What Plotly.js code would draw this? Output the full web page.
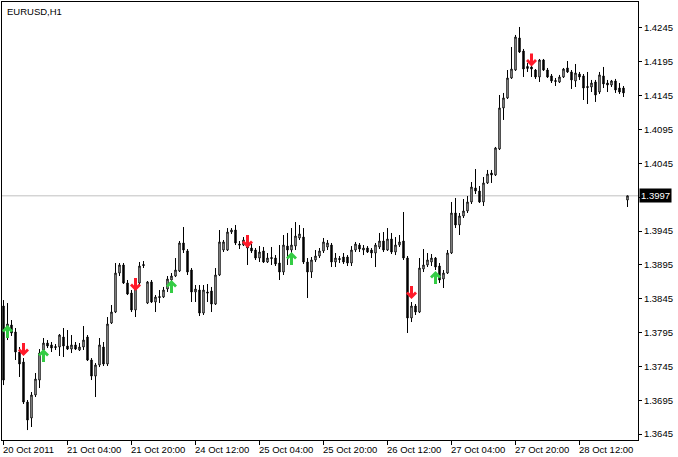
<!DOCTYPE html>
<html>
<head>
<meta charset="utf-8">
<script src="https://cdn.plot.ly/plotly-3.0.1.min.js"></script>
<style>
html,body{margin:0;padding:0;background:#fff;}
#chart{width:678px;height:457px;}
</style>
</head>
<body>
<div id="chart"></div>
<script>
// EURUSD H1 bars, 20 Oct 2011 12:00 onward (weekend hours skipped)
const opens = [
1.38342,1.37884,1.38061,1.37958,1.37662,1.37514,1.36923,1.36687,1.37027,1.37248,
1.37692,1.37795,1.37766,1.37743,1.37736,1.37884,1.37751,1.37706,1.37766,1.37692,
1.37736,1.37884,1.37544,1.37307,1.37470,1.37736,1.37485,1.38091,1.38253,1.38829,
1.38948,1.38682,1.38534,1.38283,1.38682,1.38955,1.38386,1.38697,1.38401,1.38482,
1.38475,1.38593,1.38726,1.38785,1.38859,1.39273,1.39155,1.38874,1.38549,1.38578,
1.38238,1.38549,1.38564,1.38371,1.38800,1.39169,1.39169,1.39435,1.39465,1.39258,
1.39243,1.39243,1.39199,1.39169,1.39051,1.39155,1.38992,1.39059,1.39051,1.38977,
1.38844,1.39228,1.39169,1.39228,1.39347,1.39361,1.38992,1.38844,1.39022,1.39081,
1.39155,1.39214,1.39243,1.38992,1.39044,1.39066,1.39066,1.38977,1.39169,1.39243,
1.39169,1.39199,1.39169,1.39125,1.39214,1.39302,1.39169,1.39332,1.39140,1.39243,
1.39302,1.39051,1.38165,1.38342,1.38253,1.38889,1.38948,1.38992,1.39051,1.38933,
1.38741,1.38829,1.39125,1.39716,1.39539,1.39672,1.39746,1.39879,1.40086,1.40041,
1.39879,1.40160,1.40307,1.40278,1.40662,1.41268,1.41416,1.41711,1.41829,1.42302,
1.42110,1.41881,1.41874,1.41829,1.41726,1.41977,1.41829,1.41741,1.41674,1.41652,
1.41726,1.41859,1.41800,1.41667,1.41770,1.41741,1.41586,1.41578,1.41652,1.41504,
1.41741,1.41637,1.41608,1.41667,1.41563,1.41563,1.39908
];
const highs = [
1.38430,1.38386,1.38135,1.38017,1.37736,1.37573,1.36953,1.37071,1.37352,1.37706,
1.37869,1.37839,1.37810,1.37780,1.37928,1.38017,1.37987,1.37913,1.37810,1.37795,
1.38046,1.37913,1.37573,1.37499,1.37869,1.37810,1.38179,1.38357,1.38977,1.38977,
1.38977,1.38726,1.38578,1.38726,1.38992,1.39007,1.38711,1.38726,1.38504,1.38578,
1.38623,1.38785,1.38829,1.39051,1.39302,1.39509,1.39184,1.38903,1.38652,1.38652,
1.38652,1.38667,1.38623,1.38903,1.39465,1.39317,1.39494,1.39494,1.39539,1.39302,
1.39361,1.39273,1.39258,1.39199,1.39228,1.39214,1.39125,1.39214,1.39095,1.39243,
1.39391,1.39421,1.39494,1.39583,1.39539,1.39494,1.39051,1.39066,1.39169,1.39199,
1.39347,1.39317,1.39273,1.39125,1.39081,1.39125,1.39095,1.39228,1.39288,1.39273,
1.39243,1.39228,1.39199,1.39273,1.39421,1.39435,1.39494,1.39421,1.39361,1.39391,
1.39731,1.39081,1.38401,1.38371,1.39051,1.39184,1.39125,1.39110,1.39066,1.38977,
1.38874,1.39169,1.39879,1.39938,1.39716,1.39923,1.39967,1.40174,1.40366,1.40115,
1.40248,1.40352,1.40352,1.40692,1.41460,1.41490,1.41829,1.42169,1.42347,1.42465,
1.42140,1.41933,1.41903,1.41844,1.41992,1.41992,1.41859,1.41770,1.41711,1.41756,
1.41859,1.41962,1.41829,1.41918,1.41800,1.41770,1.41800,1.41682,1.41682,1.41800,
1.41874,1.41682,1.41682,1.41697,1.41637,1.41593,1.39967
];
const lows = [
1.37174,1.37839,1.37899,1.37544,1.37293,1.36894,1.36509,1.36554,1.36997,1.37130,
1.37662,1.37721,1.37662,1.37692,1.37603,1.37588,1.37692,1.37647,1.37692,1.37677,
1.37692,1.37529,1.37248,1.36997,1.37440,1.37455,1.37455,1.38076,1.38238,1.38785,
1.38667,1.38504,1.38253,1.38179,1.38652,1.38903,1.38371,1.38386,1.38253,1.38386,
1.38460,1.38549,1.38682,1.38770,1.38844,1.39125,1.38800,1.38401,1.38401,1.38194,
1.38209,1.38401,1.38253,1.38357,1.38785,1.39140,1.39155,1.39406,1.39243,1.39184,
1.39228,1.38948,1.39125,1.39022,1.38992,1.38977,1.38977,1.38948,1.38933,1.38726,
1.38800,1.38948,1.39051,1.39169,1.39317,1.38963,1.38460,1.38756,1.38992,1.39051,
1.39125,1.39169,1.38918,1.38918,1.38977,1.38963,1.38933,1.38933,1.39140,1.39140,
1.39095,1.39125,1.39051,1.38918,1.39184,1.39140,1.39155,1.39110,1.39095,1.39214,
1.39022,1.37943,1.38105,1.38209,1.38238,1.38844,1.38918,1.38933,1.38874,1.38682,
1.38608,1.38815,1.39110,1.39494,1.39391,1.39642,1.39716,1.39849,1.39997,1.39864,
1.39820,1.40145,1.40160,1.40263,1.40647,1.41091,1.41401,1.41697,1.41815,1.42081,
1.41726,1.41800,1.41726,1.41697,1.41652,1.41815,1.41711,1.41637,1.41593,1.41637,
1.41711,1.41785,1.41549,1.41578,1.41682,1.41386,1.41327,1.41504,1.41357,1.41475,
1.41563,1.41504,1.41578,1.41490,1.41475,1.41430,1.39805
];
const closes = [
1.37248,1.38076,1.37943,1.37662,1.37485,1.36923,1.36657,1.37027,1.37263,1.37647,
1.37795,1.37751,1.37721,1.37729,1.37913,1.37751,1.37706,1.37766,1.37706,1.37736,
1.37839,1.37544,1.37307,1.37470,1.37766,1.37485,1.38076,1.38253,1.38829,1.38948,
1.38682,1.38519,1.38283,1.38682,1.38933,1.38940,1.38697,1.38401,1.38475,1.38468,
1.38578,1.38741,1.38785,1.38874,1.39273,1.39169,1.38844,1.38549,1.38593,1.38238,
1.38578,1.38534,1.38371,1.38800,1.39288,1.39288,1.39435,1.39465,1.39273,1.39243,
1.39317,1.39199,1.39155,1.39051,1.39140,1.38992,1.39051,1.39044,1.38963,1.38844,
1.39243,1.39169,1.39243,1.39376,1.39406,1.38992,1.38844,1.39022,1.39081,1.39155,
1.39288,1.39273,1.38992,1.39051,1.39029,1.38992,1.38977,1.39169,1.39258,1.39184,
1.39199,1.39140,1.39125,1.39243,1.39302,1.39169,1.39332,1.39140,1.39243,1.39288,
1.39051,1.38165,1.38342,1.38253,1.38903,1.38948,1.39022,1.39051,1.38918,1.38726,
1.38829,1.39125,1.39716,1.39539,1.39672,1.39746,1.39879,1.40100,1.40041,1.39879,
1.40160,1.40292,1.40278,1.40677,1.41268,1.41416,1.41711,1.41844,1.42317,1.42095,
1.41844,1.41852,1.41844,1.41726,1.41977,1.41829,1.41726,1.41667,1.41660,1.41726,
1.41844,1.41800,1.41682,1.41785,1.41726,1.41563,1.41571,1.41637,1.41460,1.41756,
1.41623,1.41608,1.41667,1.41534,1.41504,1.41490,1.39970
];

// date labels on the time axis (bar index -> label)
const tickBars = [0,16,32,48,64,80,96,112,128,144];
const tickLabels = ['20 Oct 2011','21 Oct 04:00','21 Oct 20:00','24 Oct 12:00','25 Oct 04:00',
                    '25 Oct 20:00','26 Oct 12:00','27 Oct 04:00','27 Oct 20:00','28 Oct 12:00'];
const priceTicks = [1.3645,1.3695,1.3745,1.3795,1.3845,1.3895,1.3945,1.3995,1.4045,1.4095,1.4145,1.4195,1.4245];
const priceTickText = ['1.3645','1.3695','1.3745','1.3795','1.3845','1.3895','1.3945','','1.4045','1.4095','1.4145','1.4195','1.4245'];

// signal arrows: bar index and price of arrow tip
const sellBars = [5,33,61,102,132];
const sellPrices = [1.37603,1.38564,1.39199,1.38445,1.41881];
const buyBars = [1,10,42,72,108];
const buyPrices = [1.38061,1.37706,1.38726,1.39140,1.38859];

const lastPrice = 1.3997;
const symbolTitle = 'EURUSD,H1';

const bars = opens.map((_, i) => i);
const FONT = 'Liberation Sans, Arial, sans-serif';

const trace = {
  type: 'candlestick',
  x: bars, open: opens, high: highs, low: lows, close: closes,
  increasing: {line: {color: '#000000', width: 1}, fillcolor: '#ffffff'},
  decreasing: {line: {color: '#000000', width: 1}, fillcolor: '#000000'},
  whiskerwidth: 0,
  hoverinfo: 'skip'
};

// arrow glyph outline (pixels, tip at origin, pointing down; y up is positive)
function arrowPath(dir) {
  const pts = [[0,0],[5.5,5.5],[3.5,7.5],[1.5,5.5],[1.5,13],[-1.5,13],[-1.5,5.5],[-3.5,7.5],[-5.5,5.5]];
  return 'M' + pts.map(p => p[0] + ',' + (dir * p[1])).join('L') + 'Z';
}

const shapes = [{
  type: 'line', xref: 'paper', x0: 0, x1: 1, yref: 'y', y0: lastPrice, y1: lastPrice,
  line: {color: '#c0c0c0', width: 1}, layer: 'below'
}];
sellBars.forEach((b, k) => {
  shapes.push({
    type: 'path', xref: 'x', yref: 'y', xsizemode: 'pixel', ysizemode: 'pixel',
    xanchor: b, yanchor: sellPrices[k], path: arrowPath(1),
    fillcolor: '#ff1a2a', line: {width: 0}, layer: 'above'
  });
});
buyBars.forEach((b, k) => {
  shapes.push({
    type: 'path', xref: 'x', yref: 'y', xsizemode: 'pixel', ysizemode: 'pixel',
    xanchor: b, yanchor: buyPrices[k], path: arrowPath(-1),
    fillcolor: '#34cc44', line: {width: 0}, layer: 'above'
  });
});

const annotations = [];
tickBars.forEach((b, k) => {
  annotations.push({
    x: b, xref: 'x', y: 0, yref: 'paper', xanchor: 'left', yanchor: 'middle',
    yshift: -9, xshift: -2.5, text: tickLabels[k], showarrow: false,
    font: {family: FONT, size: 9.5, color: '#000000'}
  });
});
annotations.push({
  x: 1, xref: 'paper', xanchor: 'left', xshift: 1, y: lastPrice, yref: 'y', yanchor: 'middle',
  text: lastPrice.toFixed(4), showarrow: false, bgcolor: '#000000', borderpad: 1,
  font: {family: FONT, size: 9.5, color: '#ffffff'}
});
annotations.push({
  x: 0, xref: 'paper', xanchor: 'left', xshift: 3, y: 1, yref: 'paper', yanchor: 'top', yshift: -2,
  text: symbolTitle, showarrow: false, font: {family: FONT, size: 9.5, color: '#000000'}
});

const layout = {
  width: 678, height: 457,
  margin: {l: 2, r: 40, t: 2, b: 17, pad: 0},
  paper_bgcolor: '#ffffff', plot_bgcolor: '#ffffff',
  showlegend: false,
  hovermode: false,
  boxgap: 0.5,
  xaxis: {
    range: [-0.375, 158.625], rangeslider: {visible: false},
    showgrid: false, zeroline: false,
    showline: true, linecolor: '#000000', linewidth: 1, mirror: true,
    tickmode: 'array', tickvals: tickBars, ticktext: tickBars.map(() => ''),
    ticks: 'outside', ticklen: 4, tickcolor: '#000000', tickwidth: 1
  },
  yaxis: {
    side: 'right', range: [1.36362, 1.42834],
    showgrid: false, zeroline: false,
    showline: true, linecolor: '#000000', linewidth: 1, mirror: true,
    tickmode: 'array', tickvals: priceTicks, ticktext: priceTickText,
    ticks: 'outside', ticklen: 3, tickcolor: '#000000', tickwidth: 1,
    tickfont: {family: FONT, size: 9.5, color: '#000000'}
  },
  shapes: shapes,
  annotations: annotations
};

Plotly.newPlot('chart', [trace], layout, {displayModeBar: false, staticPlot: true});
</script>
</body>
</html>
